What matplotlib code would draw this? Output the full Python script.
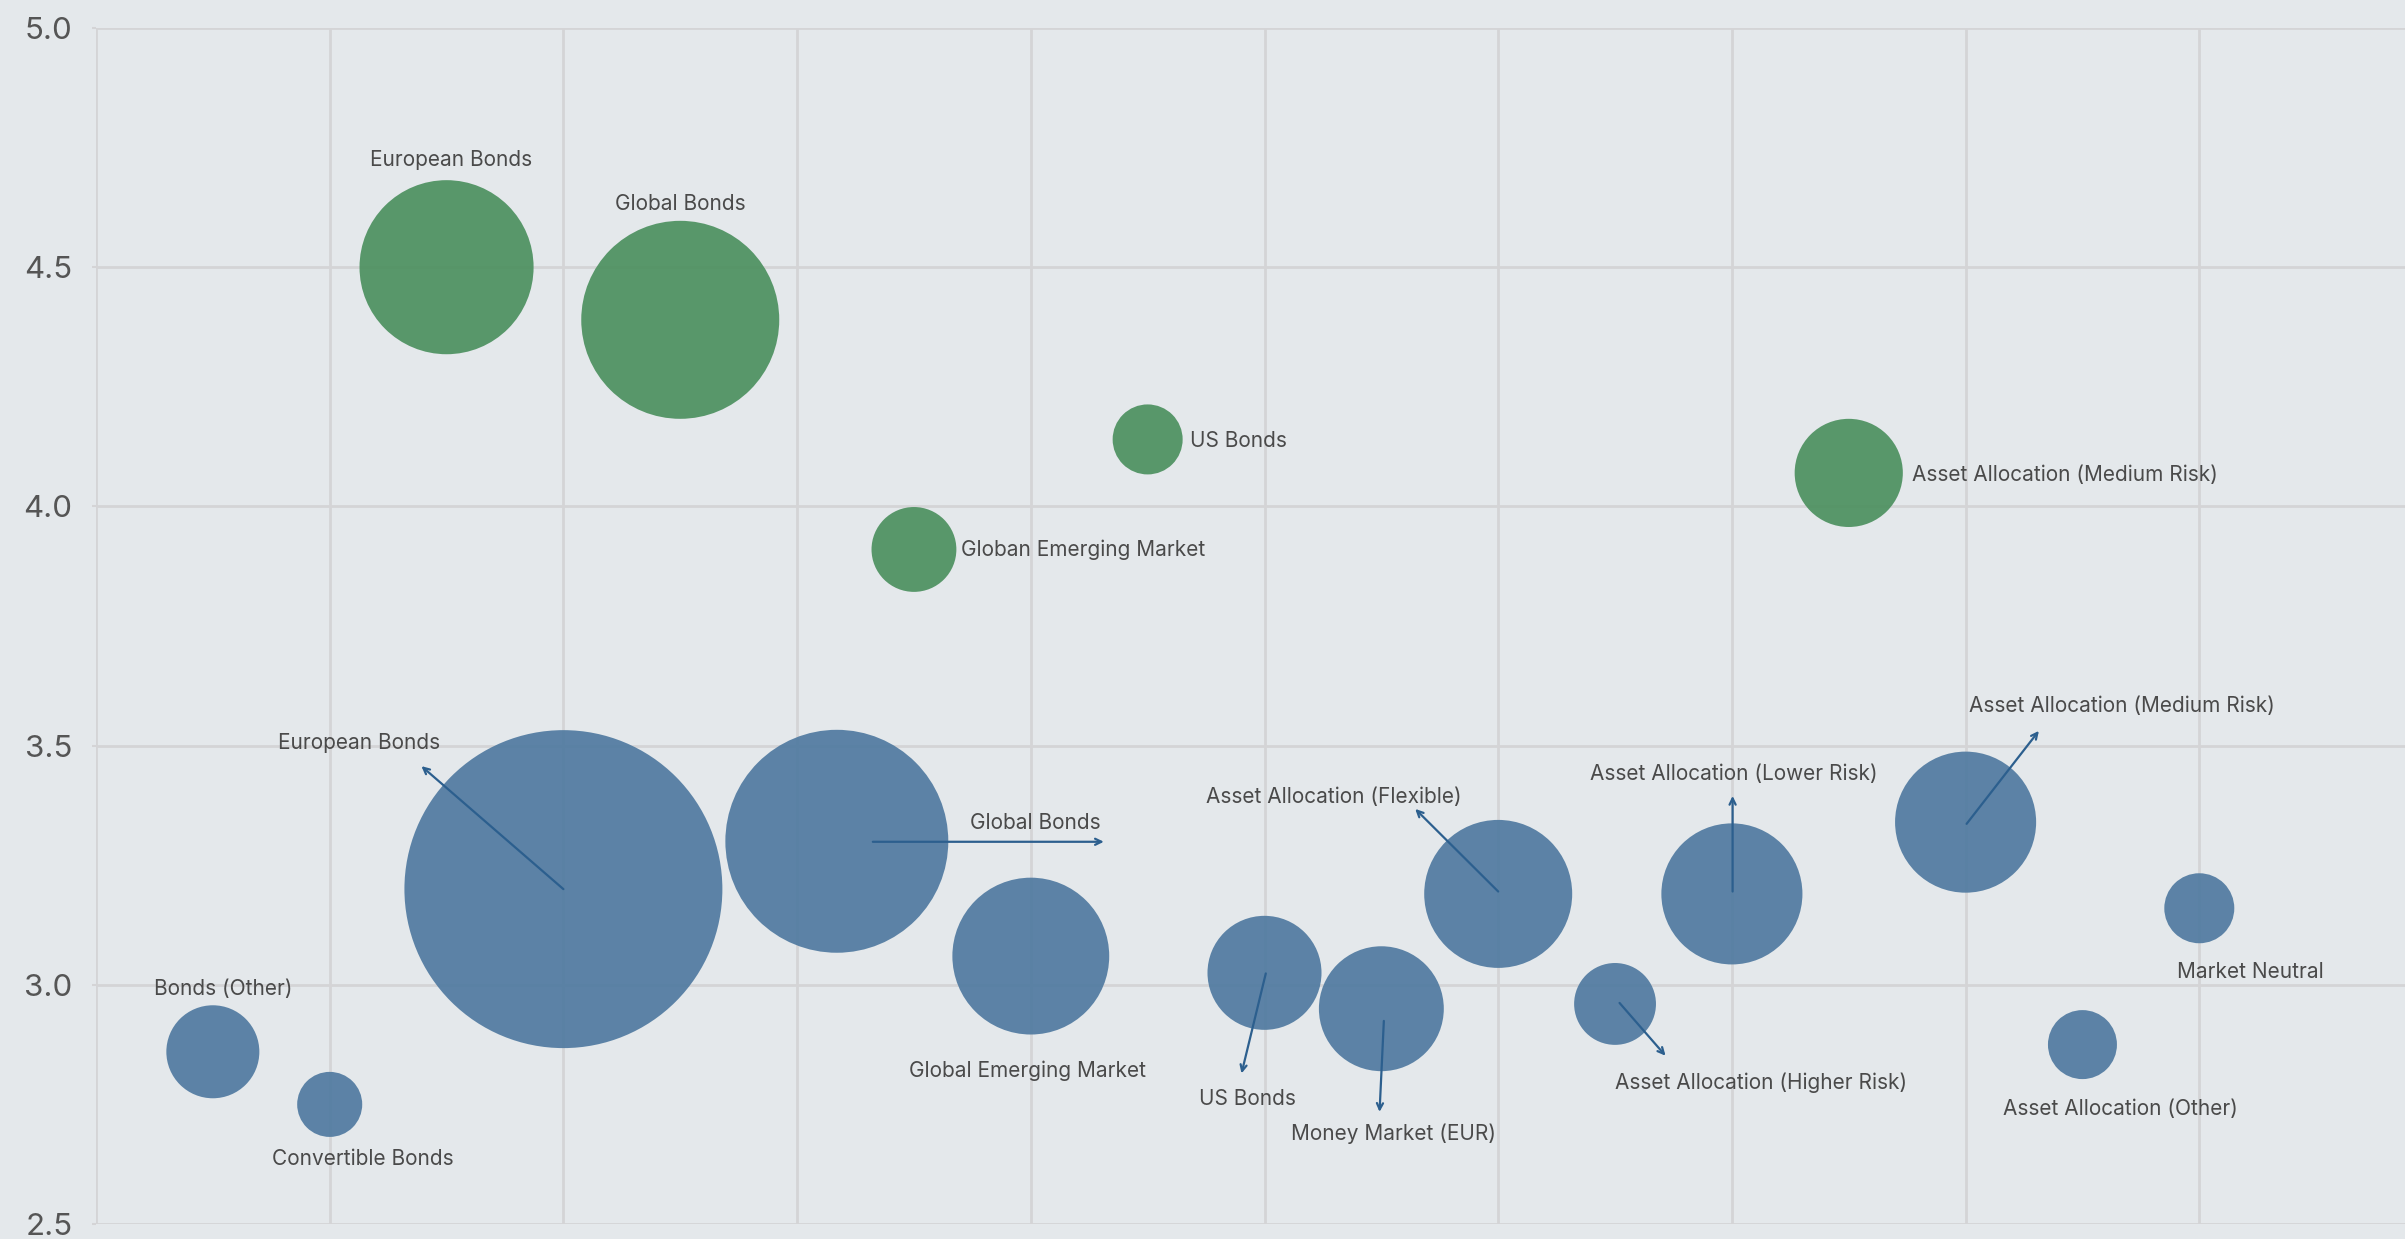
import matplotlib
matplotlib.use("Agg")
import matplotlib.pyplot as plt
import numpy as np

# ---------------- data ----------------
blue_names = ["Bonds (Other)", "Convertible Bonds", "European Bonds", "Global Bonds",
              "Global Emerging Market", "US Bonds", "Money Market (EUR)",
              "Asset Allocation (Flexible)", "Asset Allocation (Higher Risk)",
              "Asset Allocation (Lower Risk)", "Asset Allocation (Medium Risk)",
              "Asset Allocation (Other)", "Market Neutral"]
blue_x = [0.5, 1.0, 2.0, 3.17, 4.0, 5.0, 5.5, 6.0, 6.5, 7.0, 8.0, 8.5, 9.0]
blue_y = [2.86, 2.75, 3.20, 3.30, 3.06, 3.025, 2.95, 3.19, 2.96, 3.19, 3.34, 2.875, 3.16]
blue_size = [86.5, 42.3, 1011, 497, 246, 130, 156, 219, 67, 199, 199, 47.6, 49]

green_names = ["European Bonds", "Global Bonds", "Globan Emerging Market", "US Bonds",
               "Asset Allocation (Medium Risk)"]
green_x = [1.5, 2.5, 3.5, 4.5, 7.5]
green_y = [4.50, 4.39, 3.91, 4.14, 4.07]
green_size = [303, 392, 72, 49, 117]

y_ticks = [2.5, 3.0, 3.5, 4.0, 4.5, 5.0]
y_tick_labels = ["2.5", "3.0", "3.5", "4.0", "4.5", "5.0"]

# ---------------- layout (pixel offsets, screen coords: +y down) ----------------
blue_label_off = [(10, -65), (33, 52.5), (-204.5, -148), (198, -20.5), (-3.7, 113),
                  (-17, 124), (12, 123), (-164, -99), (146, 77), (2.4, -122.4),
                  (156.6, -118.3), (37.6, 62), (50.6, 62)]
blue_arrows = {2: ((0, 0), (-142, -123)),
               3: ((36, 0.5), (267, 0.5)),
               5: ((1.3, 0.6), (-23, 100.6)),
               6: ((2.5, 12.2), (-1.8, 103.2)),
               7: ((0, -2.4), (-83, -85)),
               8: ((4.5, -1), (50.5, 51.8)),
               9: ((0.7, -2.4), (0.7, -98)),
               10: ((1, 1.7), (73.3, -91.3))}
green_label_off = [(4.6, -109.3, "center"), (0, -118.3, "center"), (47, -1.5, "left"),
                   (42.3, -0.6, "left"), (63.5, 0, "left")]
TEXT_SHIFT = 2  # px downwards

BG = "#e4e8eb"
GRID = "#d4d4d6"
BLUE = "#507aa0"
GREEN = "#4c905f"
ARROW = "#2c5f8e"
TXT = "#4a4a4a"

plt.rcParams["font.family"] = ["Inter", "DejaVu Sans"]

W, H = 2405, 1239
dpi = 100
fig = plt.figure(figsize=(W / dpi, H / dpi), dpi=dpi, facecolor=BG)
x0_px, x_unit = 96, 233.7
ax = fig.add_axes([x0_px / W, 15 / H, 1 - x0_px / W, (1224 - 28) / H])
ax.set_facecolor(BG)
ax.set_xlim(0, (W - x0_px) / x_unit)
ax.set_ylim(2.5, 5.0)
ax.set_xticks(np.arange(0, 10, 1))
ax.set_xticklabels([])
ax.set_yticks(y_ticks)
ax.set_yticklabels(y_tick_labels, fontsize=22.5, color="#555555")
ax.tick_params(axis="y", length=3, width=1.5, color=GRID, pad=14)
ax.tick_params(axis="x", length=0)
ax.grid(True, color=GRID, linewidth=2, zorder=0)
ax.set_axisbelow(True)
for s in ax.spines.values():
    s.set_visible(False)

k = (72 / dpi) ** 2 * 100  # size value -> points^2
ax.scatter(blue_x, blue_y, s=np.array(blue_size) * k, color=BLUE, alpha=0.92,
           linewidths=0, zorder=2)
ax.scatter(green_x, green_y, s=np.array(green_size) * k, color=GREEN, alpha=0.92,
           linewidths=0, zorder=2)

for i, name in enumerate(blue_names):
    dx, dy = blue_label_off[i]
    ax.annotate(name, (blue_x[i], blue_y[i]), xytext=(dx, -(dy + TEXT_SHIFT)),
                textcoords="offset pixels",
                ha="center", va="center", fontsize=15, color=TXT, zorder=4)
    if i in blue_arrows:
        (sx, sy), (ex, ey) = blue_arrows[i]
        pt = ax.transData.transform((blue_x[i], blue_y[i]))
        start = ax.transData.inverted().transform((pt[0] + sx, pt[1] - sy))
        end = ax.transData.inverted().transform((pt[0] + ex, pt[1] - ey))
        ax.annotate("", xy=end, xytext=start,
                    arrowprops=dict(arrowstyle="->,head_length=0.45,head_width=0.22",
                                    color=ARROW, lw=1.6, shrinkA=0, shrinkB=0),
                    zorder=3)

for i, name in enumerate(green_names):
    dx, dy, ha = green_label_off[i]
    ax.annotate(name, (green_x[i], green_y[i]), xytext=(dx, -(dy + TEXT_SHIFT)),
                textcoords="offset pixels",
                ha=ha, va="center", fontsize=15, color=TXT, zorder=4)

fig.savefig("out.png", dpi=dpi, facecolor=BG)
